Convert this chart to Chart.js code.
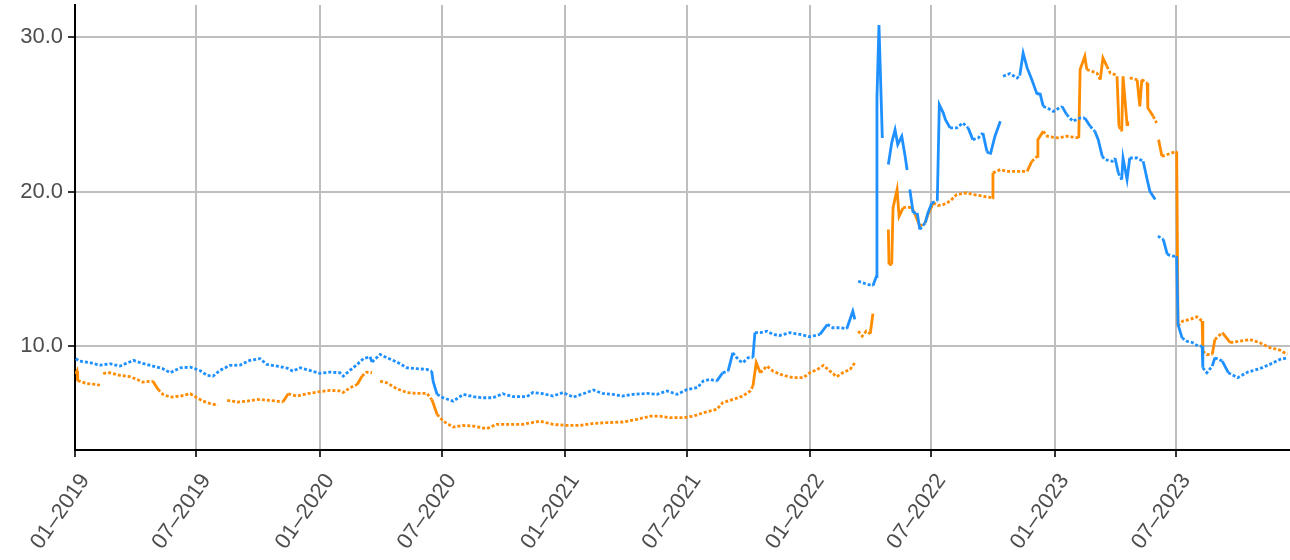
<!DOCTYPE html>
<html><head><meta charset="utf-8">
<script src="https://cdn.jsdelivr.net/npm/chart.js@4.4.0/dist/chart.umd.min.js"></script>
<style>html,body{margin:0;padding:0;background:#fff;}#wrap{width:1290px;height:560px;position:relative;}</style>
</head><body><div id="wrap"><canvas id="c"></canvas></div>
<script>
const blueDates = ['2019-01-02','2019-01-08','2019-01-23','2019-02-07','2019-02-22','2019-03-09','2019-03-29','2019-04-12','2019-04-27','2019-05-12','2019-05-23','2019-06-07','2019-06-22','2019-07-06','2019-07-17','2019-07-26','2019-08-05','2019-08-20','2019-09-04','2019-09-19','2019-10-04','2019-10-14','2019-10-29','2019-11-13','2019-11-22','2019-12-03','2019-12-17','2020-01-01','2020-01-16','2020-01-31','2020-02-05','2020-02-15','2020-02-26','2020-03-06','2020-03-16','2020-03-19','2020-03-31','2020-04-10','2020-04-25','2020-05-10','2020-05-25','2020-06-09','2020-06-16','2020-06-18','2020-06-24','2020-07-03','2020-07-18','2020-08-02','2020-08-17','2020-08-31','2020-09-15','2020-09-30','2020-10-15','2020-11-05','2020-11-14','2020-11-29','2020-12-14','2020-12-29','2021-01-13','2021-01-28','2021-02-12','2021-02-26','2021-03-13','2021-03-28','2021-04-12','2021-05-03','2021-05-18','2021-06-02','2021-06-17','2021-07-02','2021-07-17','2021-07-26','2021-08-05','2021-08-15','2021-08-24','2021-09-01','2021-09-08','2021-09-14','2021-09-19','2021-09-23','2021-10-01','2021-10-08','2021-10-11','2021-10-19','2021-10-29','2021-11-07','2021-11-17','2021-12-02','2021-12-17','2022-01-01','2022-01-16','2022-01-27','2022-02-04','2022-02-15','2022-02-25','2022-03-06','2022-03-09','2022-03-11','2022-03-14','2022-03-24','2022-04-05','2022-04-10','2022-04-11','2022-04-14','2022-04-19','2022-04-24','2022-04-28','2022-05-03','2022-05-08','2022-05-12','2022-05-18','2022-05-23','2022-05-26','2022-05-28','2022-05-30','2022-06-04','2022-06-10','2022-06-14','2022-06-22','2022-06-26','2022-07-02','2022-07-10','2022-07-13','2022-07-19','2022-07-22','2022-07-29','2022-08-08','2022-08-17','2022-08-25','2022-09-01','2022-09-09','2022-09-16','2022-09-22','2022-09-27','2022-10-04','2022-10-12','2022-10-14','2022-10-16','2022-10-26','2022-11-06','2022-11-10','2022-11-15','2022-11-21','2022-11-28','2022-12-06','2022-12-10','2022-12-15','2022-12-21','2022-12-30','2023-01-12','2023-01-19','2023-01-28','2023-02-08','2023-02-15','2023-02-23','2023-03-02','2023-03-07','2023-03-13','2023-03-17','2023-03-28','2023-04-01','2023-04-06','2023-04-11','2023-04-13','2023-04-19','2023-04-23','2023-05-04','2023-05-13','2023-05-19','2023-05-23','2023-05-31','2023-06-02','2023-06-04','2023-06-12','2023-06-18','2023-06-27','2023-07-02','2023-07-04','2023-07-10','2023-07-17','2023-07-26','2023-08-03','2023-08-09','2023-08-10','2023-08-16','2023-08-24','2023-08-28','2023-09-08','2023-09-17','2023-10-01','2023-10-16','2023-11-03','2023-11-18','2023-12-03','2023-12-15'];
const blueValues = [9.19,9.03,8.93,8.77,8.86,8.71,9.08,8.88,8.71,8.54,8.28,8.60,8.64,8.43,8.11,8.06,8.43,8.75,8.77,9.08,9.19,8.82,8.71,8.58,8.38,8.60,8.43,8.24,8.32,8.28,8.06,8.43,8.82,9.19,9.31,8.97,9.46,9.25,8.97,8.60,8.54,8.49,8.38,7.74,6.88,6.66,6.44,6.88,6.73,6.66,6.66,6.92,6.73,6.73,7.00,6.92,6.77,7.00,6.70,6.92,7.16,6.94,6.88,6.77,6.88,6.94,6.88,7.10,6.88,7.20,7.31,7.74,7.85,7.74,8.28,8.38,9.57,9.25,9.03,8.93,9.25,9.25,10.87,10.87,10.97,10.76,10.69,10.87,10.76,10.61,10.76,11.40,11.19,11.19,11.12,12.26,11.73,null,14.20,14.05,13.90,14.50,26.07,30.78,23.47,null,21.75,23.15,24.00,23.04,23.58,22.28,21.40,null,20.13,18.62,18.62,17.55,17.98,18.62,19.27,19.40,25.62,25.08,24.66,24.12,24.12,24.44,24.12,23.36,23.47,23.79,22.60,22.39,23.58,24.55,null,27.46,27.63,27.35,27.50,28.96,28.00,27.24,26.27,26.38,25.51,25.41,25.19,25.51,24.98,24.55,24.76,24.76,24.22,23.90,23.36,22.28,22.07,21.96,22.17,21.21,20.78,22.17,20.78,22.17,22.17,21.96,20.78,20.02,19.48,null,17.12,16.90,15.93,15.82,15.82,11.40,10.54,10.32,10.22,10.00,10.00,8.60,8.28,8.71,9.25,9.03,8.28,7.96,8.32,8.54,8.82,9.14,9.25];

const orangeDates = ['2019-01-02','2019-01-04','2019-01-05','2019-01-08','2019-01-19','2019-02-03','2019-02-07','2019-02-10','2019-02-12','2019-02-22','2019-03-09','2019-03-24','2019-04-03','2019-04-12','2019-04-27','2019-05-05','2019-05-12','2019-05-23','2019-06-07','2019-06-22','2019-07-02','2019-07-11','2019-07-21','2019-08-02','2019-08-09','2019-08-16','2019-08-31','2019-09-15','2019-09-29','2019-10-14','2019-10-29','2019-11-07','2019-11-15','2019-11-28','2019-12-13','2019-12-28','2020-01-16','2020-01-31','2020-02-05','2020-02-15','2020-02-26','2020-03-04','2020-03-11','2020-03-19','2020-03-25','2020-03-31','2020-04-10','2020-04-25','2020-05-10','2020-05-25','2020-06-09','2020-06-16','2020-06-18','2020-06-24','2020-07-03','2020-07-18','2020-08-02','2020-08-17','2020-09-06','2020-09-21','2020-10-11','2020-10-30','2020-11-24','2020-12-14','2021-01-04','2021-01-23','2021-02-12','2021-03-04','2021-03-28','2021-04-18','2021-05-08','2021-05-22','2021-06-06','2021-06-26','2021-07-11','2021-07-26','2021-08-15','2021-08-24','2021-09-08','2021-09-23','2021-10-04','2021-10-08','2021-10-13','2021-10-19','2021-10-29','2021-11-07','2021-11-22','2021-12-07','2021-12-22','2022-01-01','2022-01-12','2022-01-21','2022-01-31','2022-02-10','2022-02-19','2022-03-02','2022-03-09','2022-03-11','2022-03-14','2022-03-20','2022-03-26','2022-04-01','2022-04-05','2022-04-15','2022-04-28','2022-04-29','2022-05-03','2022-05-05','2022-05-11','2022-05-14','2022-05-20','2022-05-26','2022-06-02','2022-06-07','2022-06-14','2022-06-22','2022-06-26','2022-07-04','2022-07-11','2022-07-19','2022-07-29','2022-08-08','2022-08-23','2022-09-01','2022-09-16','2022-09-30','2022-10-01','2022-10-12','2022-10-22','2022-11-06','2022-11-21','2022-11-28','2022-12-06','2022-12-07','2022-12-15','2022-12-21','2023-01-05','2023-01-19','2023-02-06','2023-02-08','2023-02-15','2023-02-18','2023-02-26','2023-03-05','2023-03-10','2023-03-14','2023-03-20','2023-03-25','2023-04-01','2023-04-04','2023-04-07','2023-04-11','2023-04-13','2023-04-19','2023-04-20','2023-04-22','2023-04-23','2023-05-04','2023-05-08','2023-05-11','2023-05-19','2023-05-20','2023-05-28','2023-06-02','2023-06-03','2023-06-05','2023-06-10','2023-06-18','2023-06-25','2023-07-02','2023-07-04','2023-07-11','2023-07-22','2023-08-01','2023-08-09','2023-08-10','2023-08-16','2023-08-24','2023-08-28','2023-09-08','2023-09-20','2023-10-04','2023-10-19','2023-11-03','2023-11-18','2023-12-03','2023-12-14'];
const orangeValues = [8.20,8.38,7.74,7.74,7.57,7.52,7.46,null,8.24,8.28,8.11,8.02,7.85,7.67,7.74,7.20,6.88,6.70,6.77,6.92,6.66,6.44,6.30,6.17,null,6.49,6.38,6.44,6.55,6.51,6.44,6.38,6.92,6.77,6.92,7.03,7.14,7.10,7.00,7.31,7.52,8.06,8.32,8.28,null,7.74,7.63,7.24,7.00,6.94,6.94,6.55,6.34,5.58,5.15,4.76,4.87,4.83,4.66,4.94,4.94,4.94,5.15,4.94,4.87,4.87,5.00,5.05,5.09,5.26,5.47,5.47,5.37,5.37,5.47,5.69,5.91,6.34,6.55,6.77,7.10,7.41,8.93,8.28,8.71,8.38,8.11,7.96,7.96,8.28,8.49,8.75,8.38,8.02,8.28,8.49,8.93,null,10.97,10.65,10.97,10.80,12.10,null,17.55,15.28,15.28,18.95,20.13,18.40,18.95,19.00,18.95,18.51,17.76,17.98,18.51,19.27,19.10,19.16,19.38,19.81,19.92,19.81,19.70,19.59,21.21,21.42,21.31,21.31,21.31,21.96,22.28,23.36,23.90,23.58,23.47,23.58,23.47,27.89,28.75,27.89,27.78,27.67,27.24,28.64,28.10,27.67,27.56,27.46,24.22,23.90,27.46,24.33,24.54,null,27.35,27.24,25.51,27.24,27.03,25.41,24.87,24.44,null,23.36,22.28,22.40,22.50,22.60,11.30,11.62,11.73,11.90,11.62,9.68,9.46,9.46,10.43,10.87,10.22,10.32,10.43,10.22,9.90,9.74,9.46];

const tickDates = ['2019-01-01','2019-07-01','2020-01-01','2020-07-01','2021-01-01','2021-07-01','2022-01-01','2022-07-01','2023-01-01','2023-07-01'];
const tickLabels = ['01\u20132019','07\u20132019','01\u20132020','07\u20132020','01\u20132021','07\u20132021','01\u20132022','07\u20132022','01\u20132023','07\u20132023'];
const yTicks = [10, 20, 30];
const xStart = '2019-01-01', xEnd = '2023-12-18';
const yMin = 3.28, yMax = 32.07;

const DAY = 86400000;
const t0 = Date.parse(xStart);
const toDay = s => (Date.parse(s) - t0) / DAY;
const pts = (d, v) => d.map((s, i) => ({ x: toDay(s), y: v[i] }));
const segStyle = {
  borderDash: ctx => {
    const dx = Math.abs(ctx.p1.x - ctx.p0.x), dy = Math.abs(ctx.p1.y - ctx.p0.y);
    return (dy > 2 * dx || dy > 8) ? [] : [3, 2];
  }
};
const tickFont = { family: "'Liberation Sans', Arial, sans-serif", size: 22 };

new Chart(document.getElementById('c'), {
  type: 'line',
  data: {
    datasets: [
      { data: pts(blueDates, blueValues), borderColor: '#1e90ff', borderWidth: 2.8, pointRadius: 0, tension: 0, spanGaps: false, segment: segStyle, borderCapStyle: 'butt' },
      { data: pts(orangeDates, orangeValues), borderColor: '#ff8c00', borderWidth: 2.8, pointRadius: 0, tension: 0, spanGaps: false, segment: segStyle, borderCapStyle: 'butt' }
    ]
  },
  options: {
    responsive: true, maintainAspectRatio: false, animation: false,
    layout: { padding: { top: 5, right: 0, bottom: 0, left: 0 } },
    plugins: { legend: { display: false }, tooltip: { enabled: false } },
    scales: {
      x: {
        type: 'linear', min: 0, max: toDay(xEnd),
        afterBuildTicks: s => { s.ticks = tickDates.map(d => ({ value: toDay(d) })); },
        afterFit: s => { s.height = 110; s.paddingLeft = 0; s.paddingRight = 0; },
        ticks: { autoSkip: false, minRotation: 55, maxRotation: 55, font: tickFont, color: '#4d4d4d', padding: 12, labelOffset: 10,
                 callback: (v, i) => tickLabels[i] },
        grid: { color: '#bebebe', lineWidth: 2, tickColor: '#333333', tickLength: 7, tickWidth: 2 },
        border: { color: '#000000', width: 2 }
      },
      y: {
        min: yMin, max: yMax,
        afterBuildTicks: s => { s.ticks = yTicks.map(v => ({ value: v })); },
        afterFit: s => { s.width = 75; s.paddingTop = 0; s.paddingBottom = 0; },
        ticks: { font: tickFont, color: '#4d4d4d', padding: 5, callback: v => Number(v).toFixed(1) },
        grid: { color: '#bebebe', lineWidth: 2, tickColor: '#333333', tickLength: 7, tickWidth: 2 },
        border: { color: '#000000', width: 2 }
      }
    }
  }
});
</script></body></html>
